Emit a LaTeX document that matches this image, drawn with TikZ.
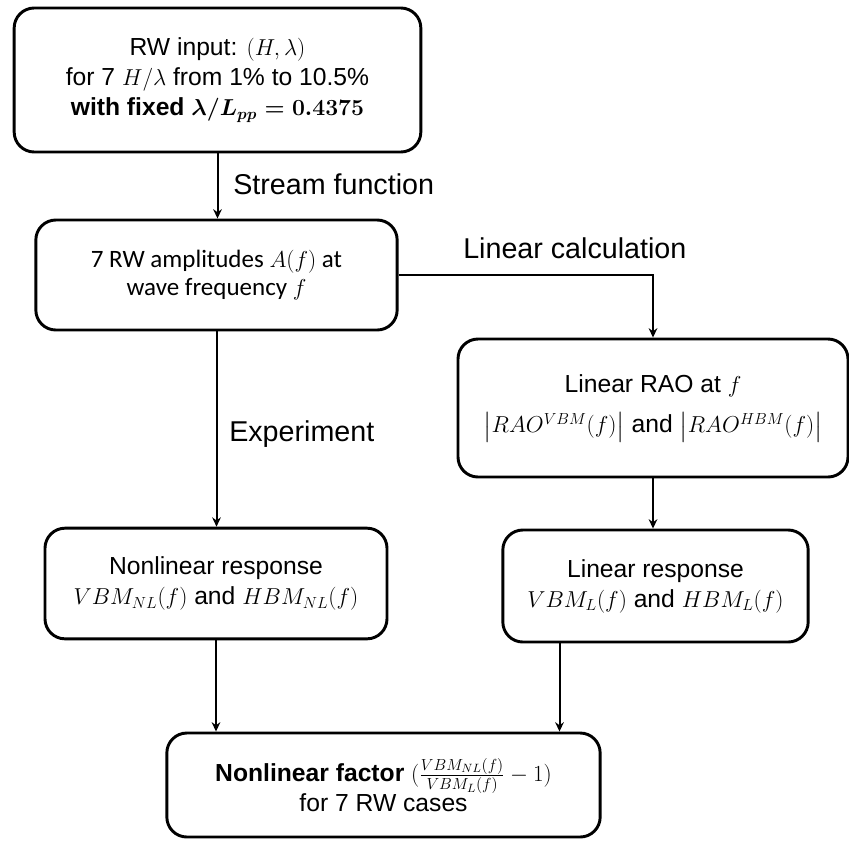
\documentclass[tikz,border=0pt]{standalone}
\usepackage{amsmath,amssymb}
\usepackage{fontspec}
\setmainfont{Liberation Sans}
\newfontfamily\calfont{Carlito}
\usepackage{tikz}
\usetikzlibrary{arrows.meta,positioning}

\begin{document}
\begin{tikzpicture}[
    x=0.75pt, y=-0.75pt,
    box/.style={rectangle, draw, line width=2.2pt, rounded corners=15pt, align=center, font=\fontsize{18.5}{22.5}\selectfont},
    arrow/.style={-{Stealth[length=7pt,width=6.5pt]}, line width=1.5pt},
    lbl/.style={inner sep=0pt, anchor=base west, font=\fontsize{21.5}{26}\selectfont}
]
\useasboundingbox (0,0) rectangle (849,840);

\node[box, minimum width=305pt, minimum height=108pt] (input) at (217.5,80)
    {RW input: $(H,\lambda)$\\for 7 $H/\lambda$ from 1\% to 10.5\%\\\textbf{with fixed} {\boldmath$\lambda/L_{pp}=0.4375$}};

\node[box, minimum width=271pt, minimum height=82.5pt, font=\calfont\fontsize{18.75}{20.5}\selectfont] (ampl) at (216.5,275)
    {7 RW amplitudes $A(f)$ at\\wave frequency $f$};

\node[box, minimum width=292.5pt, minimum height=103.5pt] (rao) at (653,408)
    {Linear RAO at $f$\\[8pt]$\bigl|RAO^{VBM}(f)\bigr|$ and $\bigl|RAO^{HBM}(f)\bigr|$};

\node[box, minimum width=256.5pt, minimum height=83pt] (nlresp) at (216,583.5)
    {Nonlinear response\\$VBM_{NL}(f)$ and $HBM_{NL}(f)$};

\node[box, minimum width=229pt, minimum height=84pt] (lresp) at (655.5,586)
    {Linear response\\$VBM_{L}(f)$ and $HBM_{L}(f)$};

\node[box, minimum width=325pt, minimum height=78pt] (factor) at (383.5,785)
    {\textbf{Nonlinear factor} $(\frac{VBM_{NL}(f)}{VBM_{L}(f)}-1)$\\for 7 RW cases};

% connectors
\draw[arrow] (input.south) -- (input.south |- ampl.north);
\draw[arrow] (ampl.east) -| (rao.north);
\draw[arrow] (ampl.south) -- (ampl.south |- nlresp.north);
\draw[arrow] (rao.south) -- (rao.south |- lresp.north);
\draw[arrow] (nlresp.south) -- (nlresp.south |- factor.north);
\draw[arrow] ([xshift=-72pt]lresp.south) -- ([xshift=-72pt]lresp.south |- factor.north);

% labels
\node[lbl] (lstream) at (233,194) {Stream function};
\node[lbl] (llinear) at (463,258) {Linear calculation};
\node[lbl] (lexp) at (229,441) {Experiment};

\end{tikzpicture}
\end{document}
